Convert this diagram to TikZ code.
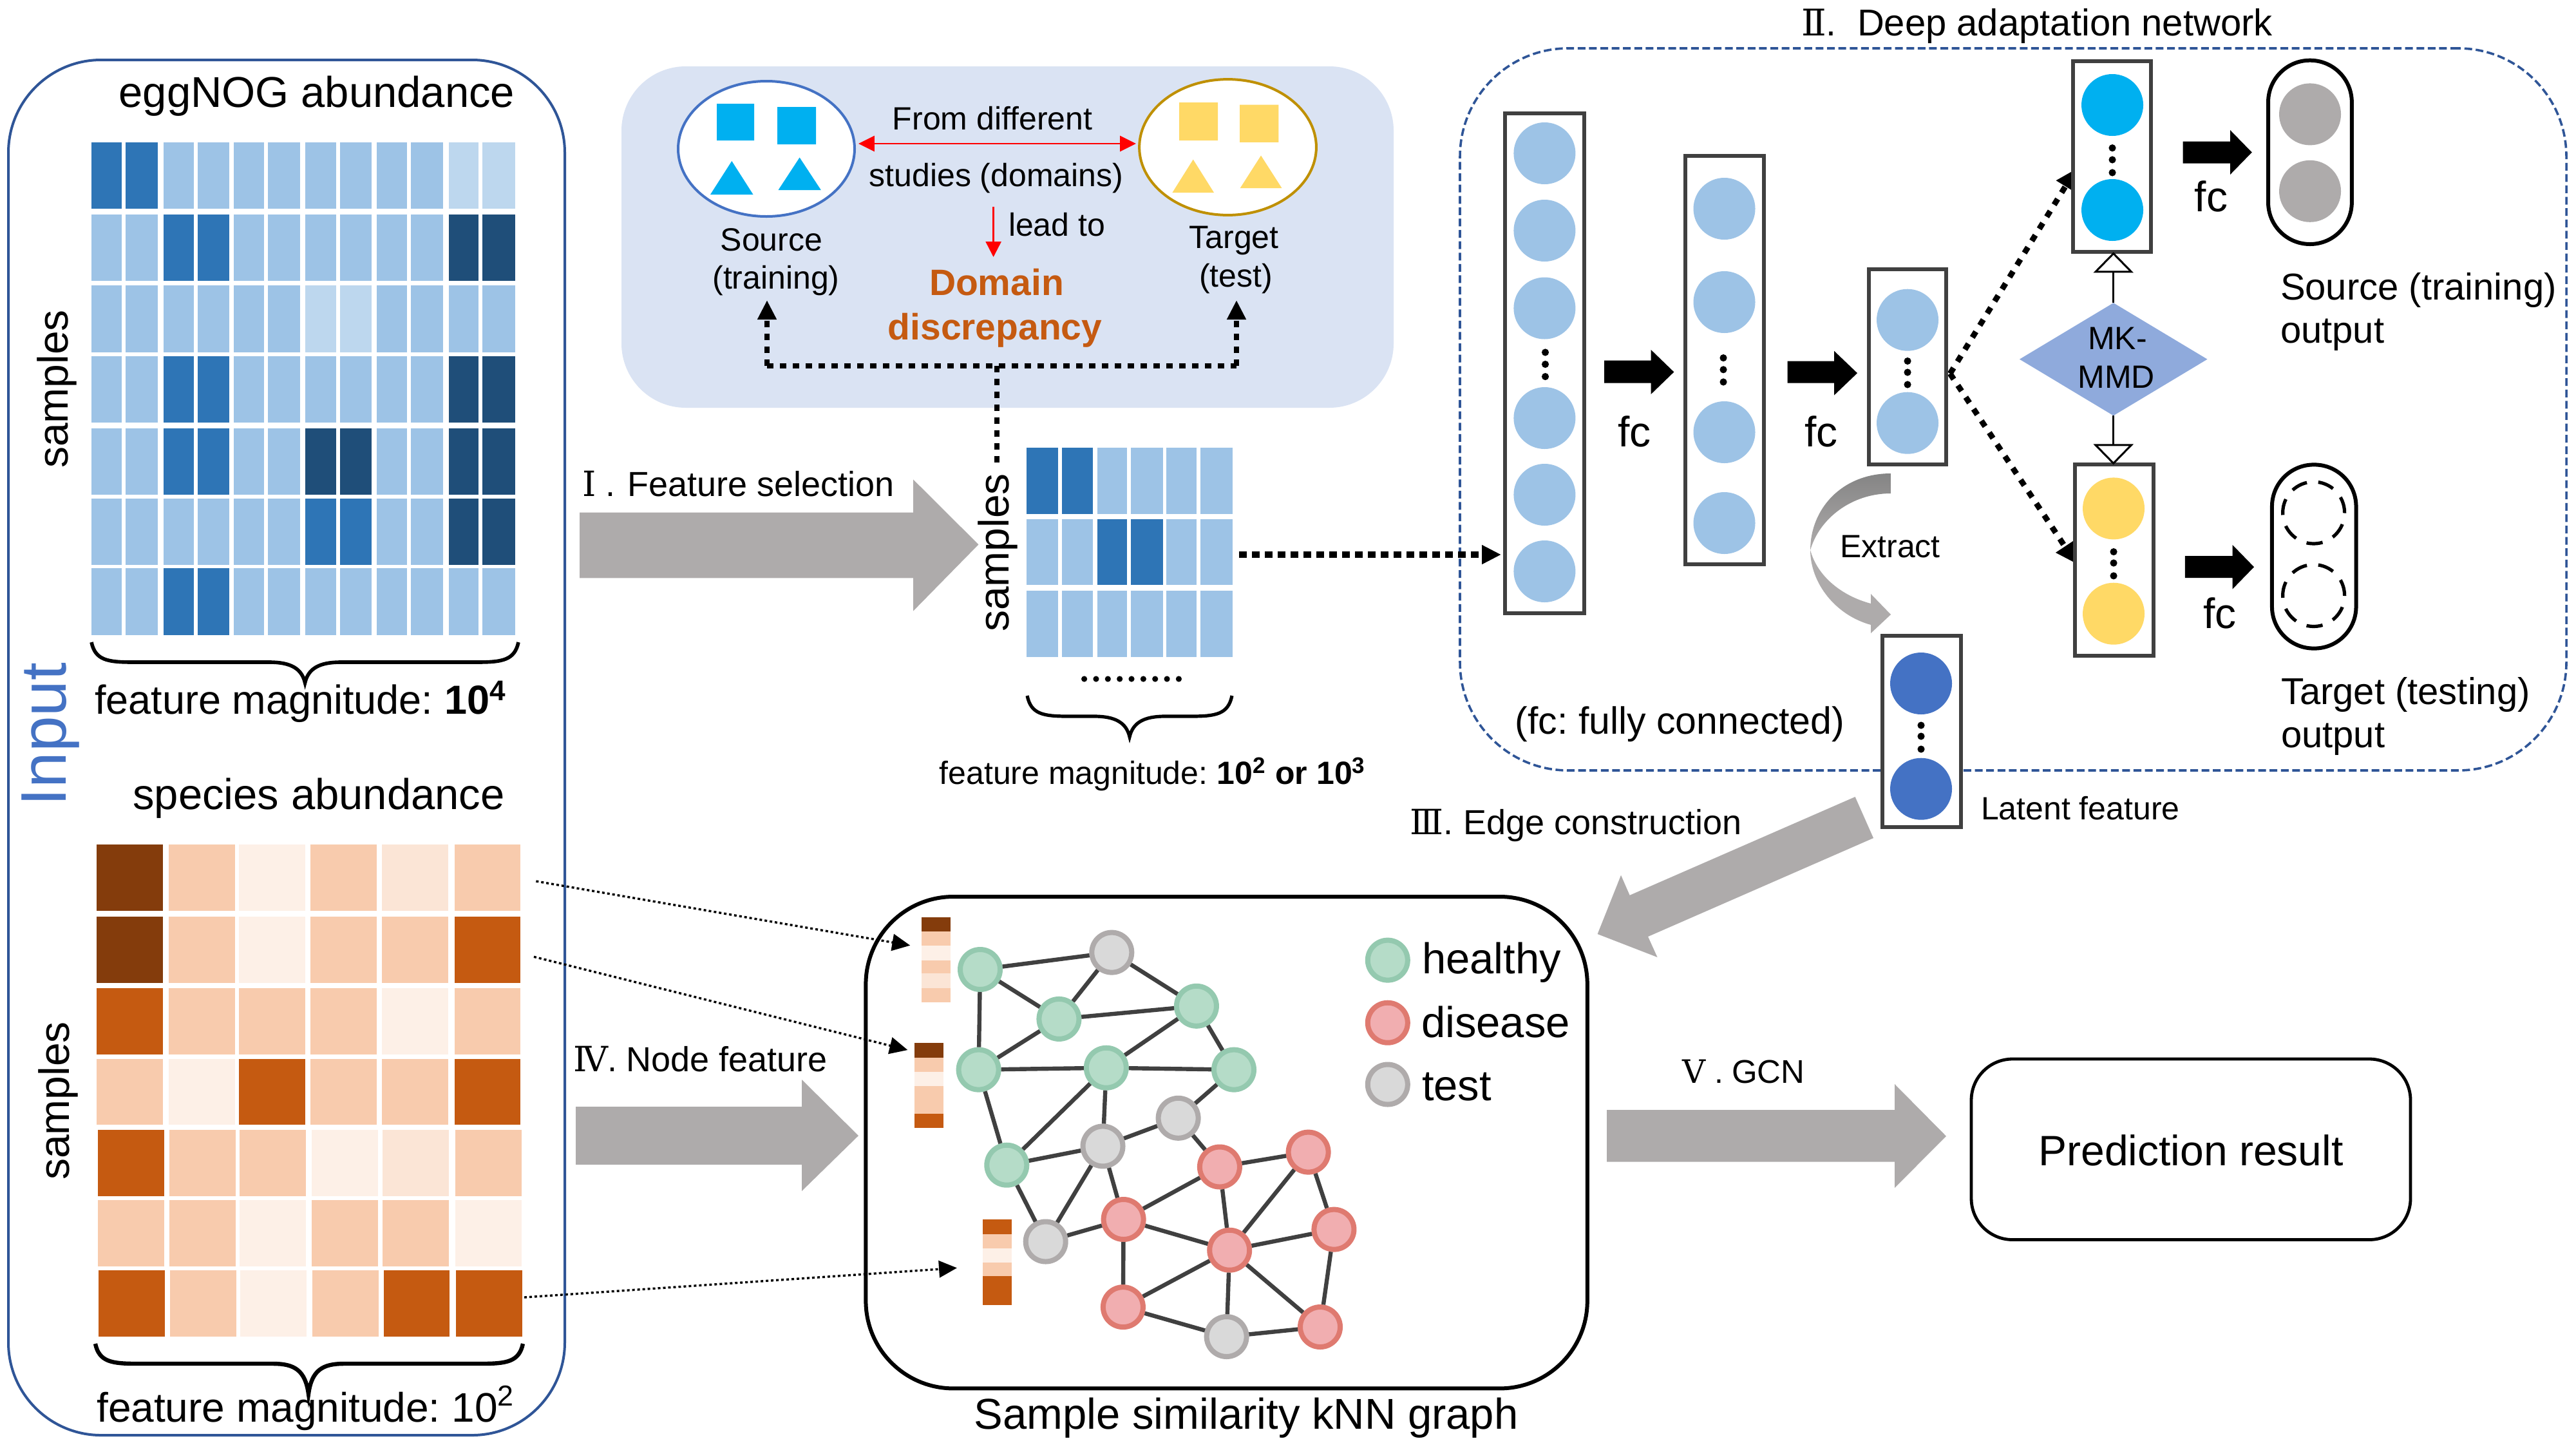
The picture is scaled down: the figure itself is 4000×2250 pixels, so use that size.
\documentclass[tikz,border=0pt]{standalone}
\usepackage{fontspec}
\setmainfont{Liberation Sans}
\newfontfamily\romn{DejaVu Serif}
\usetikzlibrary{arrows.meta,shapes.geometric,fit}
\definecolor{bL}{HTML}{9DC3E6}\definecolor{bM}{HTML}{2E75B6}\definecolor{bD}{HTML}{1F4E79}\definecolor{bV}{HTML}{BDD7EE}
\definecolor{oB}{HTML}{843C0C}\definecolor{oO}{HTML}{C55A11}\definecolor{oP}{HTML}{F8CBAD}\definecolor{oY}{HTML}{FBE5D6}\definecolor{oX}{HTML}{FDF0E7}
\definecolor{frameblue}{HTML}{2F5597}\definecolor{inputblue}{HTML}{4472C4}\definecolor{panelblue}{HTML}{DAE3F3}
\definecolor{cyanf}{HTML}{00B0F0}\definecolor{yellowf}{HTML}{FFD966}\definecolor{goldline}{HTML}{BF9000}
\definecolor{arrowgray}{HTML}{AEABAB}\definecolor{darkline}{HTML}{404040}\definecolor{mmdblue}{HTML}{8FAADC}
\definecolor{gf}{HTML}{B5DCC8}\definecolor{gs}{HTML}{94C9AF}\definecolor{rf}{HTML}{F1AEB0}\definecolor{rs}{HTML}{DF7A70}\definecolor{tf}{HTML}{D9D9D9}\definecolor{ts}{HTML}{AFABAB}
\newcommand\fz[1]{\fontsize{\fpeval{#1*0.25}pt}{\fpeval{#1*0.3}pt}\selectfont\frenchspacing}
\newcommand\heatrow[5]{\foreach \cc [count=\ci from 0] in {#5}{\pgfmathsetmacro\xl{#1[\ci]}\pgfmathsetmacro\xr{#2[\ci]}\fill[fill=\cc] (\xl,#3) rectangle (\xr,#4);}}
\newcommand\bracecurve[7]{\draw[line width=#7pt] (#1,#4) .. controls ({#1+6},{#5-3}) and ({#1+25},#5) .. ({#1+65},#5) -- ({#2-55},#5) .. controls ({#2-22},#5) and ({#2-5},{#5+10}) .. (#2,#6) .. controls ({#2+5},{#5+10}) and ({#2+22},#5) .. ({#2+55},#5) -- ({#3-65},#5) .. controls ({#3-25},#5) and ({#3-6},{#5-3}) .. (#3,#4);}
\newcommand\fatarrow[8]{\fill[fill=#8] (#1,#4) -- (#2,#4) -- (#2,#6) -- (#3,{(#6+#7)/2}) -- (#2,#7) -- (#2,#5) -- (#1,#5) -- cycle;}
\newcommand\threedots[4]{\foreach \dy in {#2,#3,#4}{\fill[black] (#1,\dy) circle[radius=1.4pt];}}
\tikzset{
 tx/.style={inner sep=0pt,outer sep=0pt,text=black,yshift=-0.3pt},
 colbox/.style={draw=darkline,line width=1.5pt,fill=white,inner sep=0pt,outer sep=0pt,rectangle},
 neuron/.style={circle,inner sep=0pt,minimum size=24pt,fill=#1},
 gnode/.style n args={2}{circle,inner sep=0pt,minimum size=15.5pt,fill=#1,draw=#2,line width=2pt},
 gedge/.style={draw=darkline,line width=1.6pt},
 bigdots/.style={line width=2pt,dash pattern=on 2.5pt off 2.5pt,-{Triangle[length=7.5pt,width=7pt]}},
 feeddots/.style={line width=2.6pt,dash pattern=on 3pt off 2pt,-{Triangle[length=7.5pt,width=7pt]}},
 middots/.style={line width=2.2pt,dash pattern=on 2.6pt off 2.9pt,-{Triangle[length=8pt,width=8pt]}},
 thindots/.style={line width=.85pt,dash pattern=on 1pt off 1pt,-{Triangle[length=7pt,width=6.5pt]}},
 dashring/.style={circle,inner sep=0pt,minimum size=24pt,draw=black,line width=1.3pt,dash pattern=on 6.3pt off 4.45pt},
}
\begin{document}
\begin{tikzpicture}[x=0.25pt,y=-0.25pt]
\useasboundingbox (0,0) rectangle (4000,2250);
\fill[white] (0,0) rectangle (4000,2250);

% ---- input frame
\node[fit={(13,93)(877,2228)},inner sep=0pt,outer sep=0pt,draw=frameblue,line width=1pt,rounded corners=36pt,rectangle] (inputframe) {};
\node[inner sep=0pt,outer sep=0pt,anchor=base,rotate=90,text=inputblue] (inputlabel) at (102,1140) {\fz{100}Input};

% ---- eggNOG heat map
\node[tx,anchor=base] (eggtitle) at (492,165) {\fz{67}eggNOG abundance};
\node[inner sep=0pt,outer sep=0pt,anchor=base,rotate=90] (eggsamples) at (105,604) {\fz{66}samples};
\def\xa{{141.8,195.2,254.3,307.1,362.8,416.2,474.2,528.1,585,638.3,696.9,749.1}}
\def\xb{{188.9,245.1,300.8,355.9,409.9,466.1,521.8,576.9,632,688.3,742.8,800.2}}
\heatrow{\xa}{\xb}{220.6}{323.8}{bM,bM,bL,bL,bL,bL,bL,bL,bL,bL,bV,bV}
\heatrow{\xa}{\xb}{332.9}{436}{bL,bL,bM,bM,bL,bL,bL,bL,bL,bL,bD,bD}
\heatrow{\xa}{\xb}{443}{546.8}{bL,bL,bL,bL,bL,bL,bV,bV,bL,bL,bL,bL}
\heatrow{\xa}{\xb}{553.2}{656.3}{bL,bL,bM,bM,bL,bL,bL,bL,bL,bL,bD,bD}
\heatrow{\xa}{\xb}{664.7}{767.8}{bL,bL,bM,bM,bL,bL,bD,bD,bL,bL,bD,bD}
\heatrow{\xa}{\xb}{774.1}{877.3}{bL,bL,bL,bL,bL,bL,bM,bM,bL,bL,bD,bD}
\heatrow{\xa}{\xb}{882.2}{986}{bL,bL,bM,bM,bL,bL,bL,bL,bL,bL,bL,bL}
\bracecurve{142}{473.6}{805}{997}{1028}{1060}{1.4}
\node[tx,anchor=base] (eggfeat) at (467,1107) {\fz{63}feature magnitude: \textbf{10\textsuperscript{4}}};

% ---- species heat map
\node[tx,anchor=base] (sptitle) at (495,1255) {\fz{67}species abundance};
\node[inner sep=0pt,outer sep=0pt,anchor=base,rotate=90] (spsamples) at (107,1709) {\fz{66}samples};
\def\ya{{149.8,261.8,370.8,482.2,593,706}}\def\yb{{253.2,365.1,474.2,585,696.3,808.3}}
\def\za{{152.1,262.9,372,483.9,594.1,707.2}}\def\zb{{254.9,366.2,475.3,587.3,696.9,810}}
\def\wa{{153.3,264.1,373.1,485,595.9,707.8}}\def\wb{{256,366.8,475.9,587.8,698.1,811.1}}
\heatrow{\ya}{\yb}{1310.6}{1413.8}{oB,oP,oX,oP,oY,oP}
\heatrow{\ya}{\yb}{1422.9}{1526}{oB,oP,oX,oP,oP,oO}
\heatrow{\ya}{\yb}{1533.7}{1636.8}{oO,oP,oP,oP,oX,oP}
\heatrow{\ya}{\yb}{1643.9}{1746.3}{oP,oX,oO,oP,oP,oO}
\heatrow{\za}{\zb}{1754}{1857.1}{oO,oP,oP,oX,oY,oP}
\heatrow{\za}{\zb}{1862.7}{1965.9}{oP,oP,oX,oP,oP,oX}
\heatrow{\wa}{\wb}{1972.2}{2075.3}{oO,oP,oX,oP,oO,oO}
\bracecurve{148}{479}{812}{2086}{2117}{2164}{1.6}
\node[tx,anchor=base] (spfeat) at (475,2206) {\fz{64}feature magnitude: 10\textsuperscript{2}};

% ---- domain panel
\node[fit={(965,103)(2164,633)},inner sep=0pt,outer sep=0pt,fill=panelblue,rounded corners=25pt,rectangle] (panel) {};
\node[ellipse,inner sep=0pt,minimum width=68.5pt,minimum height=52.5pt,fill=white,draw=inputblue,line width=1pt] (srcell) at (1190,231) {};
\node[ellipse,inner sep=0pt,minimum width=68.7pt,minimum height=52.7pt,fill=white,draw=goldline,line width=1pt] (tgtell) at (1906.5,228.5) {};
\fill[cyanf] (1113,161) rectangle (1171,218) (1207,166) rectangle (1267,224);
\fill[cyanf] (1103,302) -- (1169.5,302) -- (1136.3,250) -- cycle (1208.5,295) -- (1274.8,295) -- (1241.6,244.5) -- cycle;
\fill[yellowf] (1831,159) rectangle (1891,218) (1925,162.6) rectangle (1985.4,220.8);
\fill[yellowf] (1820.4,299) -- (1885,299) -- (1852.7,247.6) -- cycle (1925.7,292) -- (1990.4,292) -- (1958,241.5) -- cycle;
\coordinate (rl) at (1333,223); \coordinate (rr) at (1764,223);
\draw[red,line width=.65pt,{Triangle[length=6.2pt,width=6pt]}-{Triangle[length=6.2pt,width=6pt]}] (rl) -- (rr);
\coordinate (rd1) at (1542.6,321); \coordinate (rd2) at (1542.6,399);
\draw[red,line width=.65pt,-{Triangle[length=6pt,width=6pt]}] (rd1) -- (rd2);
\node[tx,anchor=base] (fromdiff) at (1541,200) {\fz{50}From different};
\node[tx,anchor=base] (studies) at (1547,288.5) {\fz{50}studies (domains)};
\node[tx,anchor=base west] (leadto) at (1566,365) {\fz{50}lead to};
\node[tx,anchor=base,text=oO] (domain) at (1547.5,457) {\fz{57}\textbf{Domain}};
\node[tx,anchor=base,text=oO] (discrep) at (1545,526) {\fz{57}\textbf{discrepancy}};
\node[tx,anchor=base] (srcA) at (1198,388) {\fz{50}Source};
\node[tx,anchor=base] (srcB) at (1205,447) {\fz{50}(training)};
\node[tx,anchor=base] (tgtA) at (1916,384) {\fz{50}Target};
\node[tx,anchor=base] (tgtB) at (1919,444) {\fz{50}(test)};
\coordinate (dl) at (1191,568); \coordinate (dr) at (1920,568); \coordinate (dlt) at (1191,466); \coordinate (drt) at (1920,466);
\coordinate (dj) at (1548,568); \coordinate (ds) at (1548,723);
\draw[bigdots] (dl) -- (dlt);
\draw[bigdots] (dr) -- (drt);
\draw[line width=2pt,dash pattern=on 2.5pt off 2.5pt] (dl) -- (dr);
\draw[line width=2pt,dash pattern=on 2.5pt off 2.5pt] (dj) -- (ds);

% ---- feature selection
\fill[arrowgray] (900,795.5) -- (1418,795.5) -- (1418,744.3) -- (1519.4,845.3) -- (1418,948.6) -- (1418,897.3) -- (900,897.3) -- cycle;
\node[tx,anchor=base west] (fsn) at (904,769) {\fz{54}{\romn Ⅰ} .};
\node[tx,anchor=base west] (fs) at (974.6,769) {\fz{54}Feature selection};
\node[inner sep=0pt,outer sep=0pt,anchor=base,rotate=90] (smsamples) at (1566,858) {\fz{66}samples};
\def\sa{{1594,1648.8,1703.5,1755.8,1811.3,1863.5}}\def\sb{{1643,1696.9,1750,1806.3,1857.8,1914}}
\heatrow{\sa}{\sb}{695.3}{797.8}{bM,bM,bL,bL,bL,bL}
\heatrow{\sa}{\sb}{806.3}{908}{bL,bL,bM,bM,bL,bL}
\heatrow{\sa}{\sb}{917.2}{1019.8}{bL,bL,bL,bL,bL,bL}
\foreach \k in {0,...,8}{\fill[black] ({1683.6+\k*18.35},1054) circle[radius=1.15pt];}
\bracecurve{1595}{1754}{1913}{1080}{1112}{1144}{1.3}
\node[tx,anchor=base] (smfeat) at (1790,1216.5) {\fz{50}feature magnitude: \textbf{10\textsuperscript{2} or 10\textsuperscript{3}}};

% ---- deep adaptation network
\node[fit={(2267,75)(3985,1196)},inner sep=0pt,outer sep=0pt,draw=frameblue,line width=.9pt,dash pattern=on 3pt off 1.4pt,rounded corners=42pt,rectangle] (danframe) {};
\node[tx,anchor=base west] (dann) at (2797,54) {\fz{57}{\romn Ⅱ}.};
\node[tx,anchor=base west] (dantitle) at (2884,54) {\fz{58}Deep adaptation network};

\coordinate (fork) at (3028,580); \coordinate (fup) at (3224,262); \coordinate (fdn) at (3224,875);
\draw[middots] (fork) -- (fup);
\draw[middots] (fork) -- (fdn);

\node[colbox,fit={(2337,176)(2460,952)}] (col1) {};
\foreach \yy in {238,358,478.5,649,768,887}{\node[neuron=bL] at (2398.4,\yy) {};}
\threedots{2399.5}{547}{565.5}{584.6}
\node[colbox,fit={(2617,242)(2739,875.6)}] (col2) {};
\foreach \yy in {324,469,671,812}{\node[neuron=bL] at (2677.5,\yy) {};}
\threedots{2676}{555.6}{573.8}{593}
\node[colbox,fit={(2901.8,418)(3022.3,721.4)}] (col3) {};
\foreach \yy in {496.7,656.7}{\node[neuron=bL] at (2962,\yy) {};}
\threedots{2962}{560.5}{578}{597}
\node[colbox,fit={(2923,986.7)(3044.6,1283.6)}] (latent) {};
\foreach \yy in {1061,1224.7}{\node[neuron=inputblue] at (2983,\yy) {};}
\threedots{2983}{1126}{1143}{1163}
\node[colbox,fit={(3218.7,94.5)(3340.4,391.4)}] (srccol) {};
\foreach \yy in {163,326}{\node[neuron=cyanf] at (3280,\yy) {};}
\threedots{3280}{229.7}{248}{268}
\node[colbox,fit={(3222,721.4)(3343.8,1018)}] (tgtcol) {};
\foreach \yy in {789.4,952.7}{\node[neuron=yellowf] at (3282,\yy) {};}
\threedots{3282}{856.6}{874}{893.9}

\fatarrow{2491}{2563.6}{2599.3}{559.7}{594.5}{543}{612}{black}
\fatarrow{2775.7}{2848}{2884}{560.5}{594.5}{544.8}{613.6}{black}
\fatarrow{3389.5}{3463}{3496.7}{219.7}{253.7}{202}{271}{black}
\fatarrow{3392.9}{3466.5}{3500}{863}{897}{845.8}{914.6}{black}
\node[tx,anchor=base] (fcA) at (2538,692.4) {\fz{66}fc};
\node[tx,anchor=base] (fcB) at (2828,692) {\fz{66}fc};
\node[tx,anchor=base] (fcC) at (3433.6,327.5) {\fz{66}fc};
\node[tx,anchor=base] (fcD) at (3447,974) {\fz{66}fc};

\node[fit={(3522,93.7)(3651.8,379)},inner sep=0pt,outer sep=0pt,draw=black,line width=1.5pt,rounded corners=16.2pt,rectangle] (srcout) {};
\node[neuron=arrowgray] at (3587,177.4) {};
\node[neuron=arrowgray] at (3587,296.8) {};
\node[fit={(3527.9,721.4)(3658.5,1006.6)},inner sep=0pt,outer sep=0pt,draw=black,line width=1.5pt,rounded corners=16.2pt,rectangle] (tgtout) {};
\node[dashring] at (3592.6,796) {};
\node[dashring] at (3592.6,924.5) {};
\node[tx,anchor=base west] (srcoutA) at (3541,464) {\fz{58}Source (training)};
\node[tx,anchor=base west] (srcoutB) at (3541,531) {\fz{58}output};
\node[tx,anchor=base west] (tgtoutA) at (3542,1092.5) {\fz{58}Target (testing)};
\node[tx,anchor=base west] (tgtoutB) at (3542,1159) {\fz{58}output};
\node[tx,anchor=base west] (fcnote) at (2352.7,1138) {\fz{59}(fc: fully connected)};
\node[tx,anchor=base] (extract) at (2935,864.5) {\fz{50}Extract};
\node[tx,anchor=base west] (latentlabel) at (3076,1271) {\fz{50}Latent feature};

\node[diamond,inner sep=0pt,outer sep=0pt,minimum width=72.9pt,minimum height=43.75pt,aspect=1.66,fill=mmdblue] (mk) at (3281.7,557.7) {};
\node[tx,anchor=base] (mkA) at (3288,541) {\fz{50}MK-};
\node[tx,anchor=base] (mkB) at (3286,601) {\fz{50}MMD};
\draw[line width=.75pt,-{Triangle[open,length=8pt,width=15.5pt]}] (mk.north) -- (mk.north |- srccol.south);
\draw[line width=.75pt,-{Triangle[open,length=8pt,width=15.5pt]}] (mk.south) -- (mk.south |- tgtcol.north);

\coordinate (hm) at (1924,861); \coordinate (hc) at (2331,861);
\draw[feeddots] (hm) -- (hc);

% extract arrow
\path[top color=black!48,bottom color=arrowgray] (2936,735) .. controls (2860,735) and (2811,790) .. (2811,854) .. controls (2825,805) and (2875,766) .. (2936,766) -- cycle;
\fill[arrowgray] (2811,854) .. controls (2811,905) and (2850,955) .. (2905,970) -- (2905,983) -- (2936,954) -- (2905,922) -- (2905,937) .. controls (2860,925) and (2822,895) .. (2811,854) -- cycle;

% edge construction arrow
\fill[arrowgray] (2880.6,1237) -- (2909,1301) -- (2559,1454) -- (2573.5,1486) -- (2480.6,1450) -- (2517,1358.7) -- (2530.6,1389.8) -- cycle;
\node[tx,anchor=base west] (ecn) at (2189,1294) {\fz{54}{\romn Ⅲ}.};
\node[tx,anchor=base west] (ec) at (2272,1294) {\fz{54}Edge construction};

% ---- graph box
\node[fit={(1344.4,1392)(2464.8,2155.4)},inner sep=0pt,outer sep=0pt,draw=black,line width=1.5pt,rounded corners=34pt,rectangle] (graphbox) {};
\node[tx,anchor=base] (graphlabel) at (1935,2217) {\fz{67}Sample similarity kNN graph};

\foreach \n/\xx/\yy in {g1/1522/1505,g2/1644.4/1581.9,g3/1857.9/1561.8,g4/1519.6/1660.6,g5/1717.8/1657.7,g6/1916/1660.6,g7/1563.3/1808.7,lg/2154.8/1490.6}{\node[gnode={gf}{gs}] (\n) at (\xx,\yy) {};}
\foreach \n/\xx/\yy in {t1/1726.3/1478.6,t2/1829.6/1735.8,t3/1712.5/1779.4,t4/1623.7/1927.5,t5/1904.6/2075,lt/2154.8/1683.5}{\node[gnode={tf}{ts}] (\n) at (\xx,\yy) {};}
\foreach \n/\xx/\yy in {r1/1893.9/1811.5,r2/2031.6/1788.6,r3/1744.6/1893,r4/1909.2/1940.7,r5/2071.4/1908.6,r6/1743.9/2029.1,r7/2050/2060,lr/2154.8/1587.7}{\node[gnode={rf}{rs}] (\n) at (\xx,\yy) {};}
\foreach \a/\b in {g1/t1,g1/g2,g1/g4,t1/g2,t1/g3,g2/g3,g2/g4,g3/g5,g3/g6,g4/g5,g5/g6,g4/g7,g5/g7,g5/t3,g6/t2,t2/t3,t2/r1,t3/g7,t3/r3,t3/t4,g7/t4,t4/r3,r3/r1,r3/r4,r3/r6,r1/r2,r1/r4,r2/r4,r2/r5,r4/r5,r4/r6,r4/t5,r4/r7,r5/r7,r6/t5,t5/r7}{\draw[gedge] (\a) -- (\b);}
\node[tx,anchor=base west] (lhealthy) at (2208,1510.7) {\fz{67}healthy};
\node[tx,anchor=base west] (ldisease) at (2207,1609.5) {\fz{67}disease};
\node[tx,anchor=base west] (ltest) at (2208,1707) {\fz{67}test};

% feature bars
\fill[oB] (1430.9,1424) rectangle (1476,1445.9);\fill[oP] (1430.9,1445.9) rectangle (1476,1468.3);\fill[oX] (1430.9,1468.3) rectangle (1476,1491.2);\fill[oP] (1430.9,1491.2) rectangle (1476,1511.3);\fill[oY] (1430.9,1511.3) rectangle (1476,1534.3);\fill[oP] (1430.9,1534.3) rectangle (1476,1555.5);
\fill[oB] (1420.2,1619.2) rectangle (1465.3,1642.2);\fill[oP] (1420.2,1642.2) rectangle (1465.3,1664);\fill[oX] (1420.2,1664) rectangle (1465.3,1685.8);\fill[oP] (1420.2,1685.8) rectangle (1465.3,1728.9);\fill[oO] (1420.2,1728.9) rectangle (1465.3,1751.3);
\fill[oO] (1525.8,1893) rectangle (1570.9,1916);\fill[oP] (1525.8,1916) rectangle (1570.9,1937.8);\fill[oX] (1525.8,1937.8) rectangle (1570.9,1960.2);\fill[oP] (1525.8,1960.2) rectangle (1570.9,1980.9);\fill[oO] (1525.8,1980.9) rectangle (1570.9,2026.2);

\coordinate (a1s) at (832.4,1368); \coordinate (a1e) at (1413.3,1467.7);
\coordinate (a2s) at (829,1485.3); \coordinate (a2e) at (1409.4,1630);
\coordinate (a3s) at (814,2014); \coordinate (a3e) at (1486,1968.3);
\draw[thindots] (a1s) -- (a1e);
\draw[thindots] (a2s) -- (a2e);
\draw[thindots] (a3s) -- (a3e);

% ---- node feature arrow, GCN arrow, result
\fill[arrowgray] (894,1718) -- (1245,1718) -- (1245,1676) -- (1333,1763) -- (1245,1849) -- (1245,1808) -- (894,1808) -- cycle;
\node[tx,anchor=base west] (nfn) at (890,1662) {\fz{54}{\romn Ⅳ}.};
\node[tx,anchor=base west] (nf) at (972,1662) {\fz{54}Node feature};
\fill[arrowgray] (2495,1723) -- (2942,1723) -- (2942,1683) -- (3022,1763.8) -- (2942,1844) -- (2942,1803.6) -- (2495,1803.6) -- cycle;
\node[tx,anchor=base west] (gcnn) at (2612,1680) {\fz{50}{\romn Ⅴ} .};
\node[tx,anchor=base west] (gcn) at (2689,1680) {\fz{51}GCN};
\node[fit={(3061,1644)(3743,1924.5)},inner sep=0pt,outer sep=0pt,draw=black,line width=1.2pt,rounded corners=16pt,rectangle] (result) {};
\node[tx,anchor=base] (resulttext) at (3402,1808) {\fz{66}Prediction result};
\end{tikzpicture}
\end{document}
